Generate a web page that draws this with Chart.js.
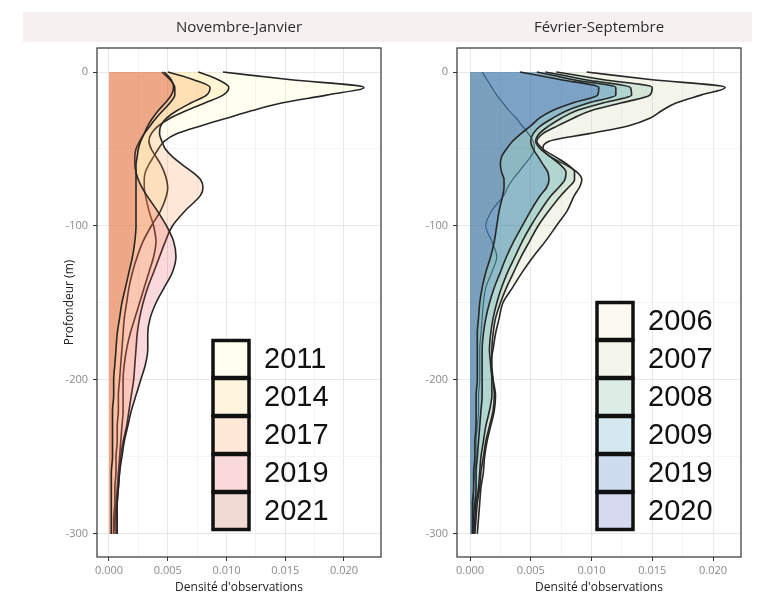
<!DOCTYPE html>
<html>
<head>
<meta charset="utf-8">
<script src="https://cdn.jsdelivr.net/npm/chart.js@4.4.1/dist/chart.umd.min.js"></script>
<style>
  body { margin: 0; background: #fff; width: 767px; height: 596px; overflow: hidden; position: relative; }
  #strip { position: absolute; left: 23px; top: 12px; width: 729px; height: 30px; background: #f7f0f0; }
  #leftPanel { position: absolute; left: 0; top: 0; }
  #rightPanel { position: absolute; left: 390px; top: 0; }
</style>
</head>
<body>
<div id="strip"></div>
<canvas id="leftPanel" width="390" height="596"></canvas>
<canvas id="rightPanel" width="377" height="596"></canvas>
<script>
// depth grid (m) shared by every density curve
const depths = [0, -5, -10, -15, -20, -25, -30, -35, -40, -45, -50, -55, -60, -65, -70, -75, -80,
  -90, -100, -110, -120, -130, -140, -150, -160, -170, -180, -190, -200,
  -210, -220, -230, -240, -250, -260, -270, -280, -290, -300];

const yTicks = [0, -100, -200, -300];
const xTicks = [0, 0.005, 0.010, 0.015, 0.020];

// Novembre-Janvier
const novJanYears = ['2011', '2014', '2017', '2019', '2021'];
const novJan2011 = [0.0097, 0.0155, 0.0217, 0.0185, 0.0148, 0.0122, 0.0100, 0.0078, 0.0058, 0.0047,
  0.0042, 0.0038, 0.0034, 0.0031, 0.0030, 0.0030, 0.0031,
  0.0034, 0.0038, 0.0040, 0.0038, 0.0034, 0.0030, 0.0026, 0.0022, 0.0018, 0.0015,
  0.0013, 0.0012, 0.0012, 0.0012, 0.0011, 0.0010, 0.0009, 0.0008, 0.0007, 0.0006, 0.0005, 0.0004];
const novJan2014 = [0.0076, 0.0093, 0.0102, 0.0097, 0.0082, 0.0066, 0.0052, 0.0042, 0.0036, 0.0034,
  0.0036, 0.0040, 0.0044, 0.0047, 0.0049, 0.0050, 0.0049,
  0.0044, 0.0036, 0.0029, 0.0024, 0.0020, 0.0017, 0.0015, 0.0013, 0.0012, 0.0011,
  0.0010, 0.0009, 0.0008, 0.0008, 0.0007, 0.0007, 0.0006, 0.0006, 0.0005, 0.0005, 0.0004, 0.0004];
const novJan2017 = [0.0050, 0.0072, 0.0086, 0.0083, 0.0070, 0.0058, 0.0049, 0.0044, 0.0043, 0.0045,
  0.0048, 0.0054, 0.0062, 0.0071, 0.0078, 0.0080, 0.0078,
  0.0065, 0.0054, 0.0048, 0.0043, 0.0038, 0.0033, 0.0029, 0.0026, 0.0024, 0.0023,
  0.0022, 0.0021, 0.0019, 0.0017, 0.0015, 0.0012, 0.0010, 0.0009, 0.0008, 0.0007, 0.0006, 0.0006];
const novJan2019 = [0.0045, 0.0052, 0.0056, 0.0056, 0.0052, 0.0046, 0.0040, 0.0035, 0.0030, 0.0026,
  0.0023, 0.0022, 0.0022, 0.0023, 0.0025, 0.0028, 0.0032,
  0.0041, 0.0049, 0.0055, 0.0057, 0.0054, 0.0047, 0.0040, 0.0035, 0.0033, 0.0033,
  0.0031, 0.0027, 0.0023, 0.0019, 0.0016, 0.0013, 0.0011, 0.0009, 0.0008, 0.0007, 0.0007, 0.0007];
const novJan2021 = [0.0047, 0.0053, 0.0055, 0.0053, 0.0048, 0.0042, 0.0037, 0.0033, 0.0030, 0.0027,
  0.0025, 0.0024, 0.0023, 0.0023, 0.0023, 0.0023, 0.0023,
  0.0023, 0.0023, 0.0022, 0.0020, 0.0017, 0.0014, 0.0011, 0.0009, 0.0007, 0.0006,
  0.0005, 0.0004, 0.0004, 0.0003, 0.0003, 0.0003, 0.0003, 0.0002, 0.0002, 0.0002, 0.0002, 0.0002];

// Février-Septembre
const febSepYears = ['2006', '2007', '2008', '2009', '2019', '2020'];
const febSep2006 = [0.0010, 0.0014, 0.0018, 0.0022, 0.0027, 0.0032, 0.0038, 0.0043, 0.0048, 0.0052,
  0.0053, 0.0050, 0.0045, 0.0040, 0.0035, 0.0031, 0.0028,
  0.0018, 0.0013, 0.0018, 0.0022, 0.0018, 0.0013, 0.0011, 0.0010, 0.0009, 0.0008,
  0.0008, 0.0008, 0.0007, 0.0007, 0.0006, 0.0005, 0.0005, 0.0004, 0.0003, 0.0003, 0.0002, 0.0002];
const febSep2007 = [0.0096, 0.0150, 0.0210, 0.0190, 0.0170, 0.0158, 0.0148, 0.0130, 0.0098, 0.0065,
  0.0060, 0.0066, 0.0078, 0.0088, 0.0092, 0.0090, 0.0086,
  0.0080, 0.0071, 0.0062, 0.0052, 0.0043, 0.0035, 0.0027, 0.0024, 0.0021, 0.0019,
  0.0017, 0.0019, 0.0021, 0.0020, 0.0017, 0.0014, 0.0012, 0.0011, 0.0009, 0.0008, 0.0007, 0.0006];
const febSep2008 = [0.0071, 0.0110, 0.0150, 0.0148, 0.0125, 0.0100, 0.0085, 0.0072, 0.0060, 0.0055,
  0.0060, 0.0070, 0.0080, 0.0086, 0.0086, 0.0081, 0.0075,
  0.0065, 0.0056, 0.0049, 0.0042, 0.0036, 0.0030, 0.0025, 0.0021, 0.0019, 0.0018,
  0.0018, 0.0019, 0.0020, 0.0019, 0.0016, 0.0013, 0.0011, 0.0009, 0.0008, 0.0006, 0.0005, 0.0004];
const febSep2009 = [0.0062, 0.0095, 0.0132, 0.0133, 0.0110, 0.0088, 0.0075, 0.0065, 0.0057, 0.0054,
  0.0058, 0.0066, 0.0074, 0.0079, 0.0078, 0.0073, 0.0067,
  0.0058, 0.0050, 0.0043, 0.0037, 0.0031, 0.0026, 0.0022, 0.0019, 0.0017, 0.0016,
  0.0017, 0.0018, 0.0018, 0.0016, 0.0013, 0.0011, 0.0009, 0.0008, 0.0007, 0.0005, 0.0004, 0.0003];
const febSep2019 = [0.0055, 0.0085, 0.0120, 0.0120, 0.0098, 0.0080, 0.0068, 0.0058, 0.0052, 0.0050,
  0.0052, 0.0056, 0.0060, 0.0064, 0.0065, 0.0063, 0.0058,
  0.0050, 0.0043, 0.0036, 0.0030, 0.0025, 0.0020, 0.0016, 0.0013, 0.0011, 0.0010,
  0.0010, 0.0010, 0.0010, 0.0009, 0.0008, 0.0007, 0.0006, 0.0005, 0.0005, 0.0004, 0.0003, 0.0003];
const febSep2020 = [0.0041, 0.0075, 0.0106, 0.0105, 0.0085, 0.0068, 0.0057, 0.0050, 0.0042, 0.0035,
  0.0030, 0.0026, 0.0025, 0.0026, 0.0028, 0.0028, 0.0027,
  0.0024, 0.0022, 0.0020, 0.0017, 0.0013, 0.0010, 0.0008, 0.0007, 0.0006, 0.0006,
  0.0006, 0.0006, 0.0005, 0.0005, 0.0005, 0.0004, 0.0004, 0.0003, 0.0003, 0.0002, 0.0002, 0.0002];

const novJanColors = ['rgba(255,255,178,0.2)', 'rgba(254,204,92,0.2)', 'rgba(253,141,60,0.2)',
  'rgba(232,64,74,0.2)', 'rgba(190,70,40,0.2)'];
const febSepColors = ['rgba(230,230,180,0.2)', 'rgba(195,205,150,0.2)', 'rgba(80,165,130,0.2)',
  'rgba(40,145,175,0.2)', 'rgba(5,80,175,0.2)', 'rgba(50,65,180,0.2)'];

const FONT = '"Open Sans", "DejaVu Sans", sans-serif';

function withMinor(major) {
  const out = major.slice();
  for (let i = 0; i < major.length - 1; i++) out.push((major[i] + major[i + 1]) / 2);
  return out.sort((a, b) => a - b);
}
const isMajor = (list, v) => list.some(t => Math.abs(t - v) < 1e-9);

// ggplot-like panel border, strip title and in-panel legend
const panelBorder = {
  id: 'panelBorder',
  afterDatasetsDraw(chart) {
    const {ctx, chartArea: a} = chart;
    ctx.save();
    ctx.strokeStyle = '#333';
    ctx.lineWidth = 1.2;
    ctx.strokeRect(a.left, a.top, a.right - a.left, a.bottom - a.top);
    ctx.restore();
  }
};
const panelTitle = {
  id: 'panelTitle',
  afterDraw(chart, args, opts) {
    const {ctx, chartArea: a} = chart;
    ctx.save();
    ctx.fillStyle = '#2b2b2b';
    ctx.font = '15px ' + FONT;
    ctx.textAlign = 'center';
    ctx.textBaseline = 'middle';
    ctx.fillText(opts.text, (a.left + a.right) / 2, 28);
    ctx.restore();
  }
};
const keyLegend = {
  id: 'keyLegend',
  afterDraw(chart, args, opts) {
    const {ctx, chartArea: a} = chart;
    const x0 = a.left + opts.x, y0 = a.top + opts.y;
    ctx.save();
    chart.data.datasets.forEach((ds, i) => {
      const y = y0 + i * opts.h;
      ctx.fillStyle = '#fff';
      ctx.fillRect(x0, y, opts.w, opts.h);
      ctx.fillStyle = ds.backgroundColor;
      ctx.fillRect(x0, y, opts.w, opts.h);
      ctx.lineWidth = 3.5;
      ctx.strokeStyle = '#111';
      ctx.strokeRect(x0, y + 0.5, opts.w, opts.h - 1);
      ctx.fillStyle = '#111';
      ctx.font = opts.size + 'px "Liberation Sans", Arial, sans-serif';
      ctx.textAlign = 'left';
      ctx.textBaseline = 'middle';
      ctx.fillText(ds.label, x0 + opts.w + 15, y + opts.h / 2 + 1);
    });
    ctx.restore();
  }
};

function makePanel(canvasId, years, series, colors, opts) {
  const datasets = years.map((yr, i) => ({
    label: yr,
    data: depths.map((d, k) => ({x: series[i][k], y: d})),
    backgroundColor: colors[i],
    borderColor: '#262626',
    borderWidth: opts.lineWidths ? opts.lineWidths[i] : 1.6,
    pointRadius: 0,
    fill: 'origin',
    cubicInterpolationMode: 'monotone',
    order: years.length - i
  }));

  const gridColor = list => ctx => isMajor(list, ctx.tick.value) ? '#e8e8e8' : '#f4f4f4';
  const tickColor = list => ctx => isMajor(list, ctx.tick.value) ? '#333' : 'rgba(0,0,0,0)';

  new Chart(document.getElementById(canvasId), {
    type: 'line',
    data: {datasets},
    plugins: [panelBorder, panelTitle, keyLegend],
    options: {
      responsive: false,
      animation: false,
      indexAxis: 'y',
      layout: {padding: {top: 48, right: opts.padRight, bottom: 0, left: 0}},
      scales: {
        x: {
          type: 'linear',
          min: opts.xMin,
          max: opts.xMax,
          afterBuildTicks: s => { s.ticks = withMinor(xTicks).map(v => ({value: v})); },
          afterFit: s => { s.height = 39; },
          border: {display: false},
          grid: {color: gridColor(xTicks), tickColor: tickColor(xTicks), tickLength: 4, lineWidth: 1},
          ticks: {
            autoSkip: false, maxRotation: 0, padding: 3, color: '#8a8a8a',
            font: {family: FONT, size: 11},
            callback: v => isMajor(xTicks, v) ? v.toFixed(3) : ''
          },
          title: {
            display: true, text: "Densité d'observations", color: '#222',
            font: {family: FONT, size: 12}, padding: {top: 0, bottom: 1}
          }
        },
        y: {
          type: 'linear',
          min: -315,
          max: 15.6,
          afterBuildTicks: s => { s.ticks = withMinor(yTicks).map(v => ({value: v})); },
          afterFit: s => { s.width = opts.yWidth; },
          border: {display: false},
          grid: {color: gridColor(yTicks), tickColor: tickColor(yTicks), tickLength: 4, lineWidth: 1},
          ticks: {
            autoSkip: false, padding: 5, color: '#8a8a8a',
            font: {family: FONT, size: 11},
            callback: v => isMajor(yTicks, v) ? String(v) : ''
          },
          title: {
            display: opts.yTitle !== '', text: opts.yTitle, color: '#222',
            font: {family: FONT, size: 12}, padding: {top: 62, bottom: 0}
          }
        }
      },
      plugins: {
        legend: {display: false},
        tooltip: {enabled: false},
        panelTitle: {text: opts.title},
        keyLegend: opts.legend
      }
    }
  });
}

makePanel('leftPanel', novJanYears,
  [novJan2011, novJan2014, novJan2017, novJan2019, novJan2021], novJanColors,
  {title: 'Novembre-Janvier', yTitle: 'Profondeur (m)', yWidth: 97, padRight: 9,
   xMin: -0.00102, xMax: 0.02315,
   legend: {x: 116, y: 292, w: 36, h: 38, size: 29}});

makePanel('rightPanel', febSepYears,
  [febSep2006, febSep2007, febSep2008, febSep2009, febSep2019, febSep2020], febSepColors,
  {title: 'Février-Septembre', yTitle: '', yWidth: 67, padRight: 26,
   xMin: -0.00107, xMax: 0.0223,
   lineWidths: [1.1, 1.6, 1.6, 1.6, 1.6, 1.6],
   legend: {x: 140, y: 254, w: 36, h: 38, size: 29}});
</script>
</body>
</html>
